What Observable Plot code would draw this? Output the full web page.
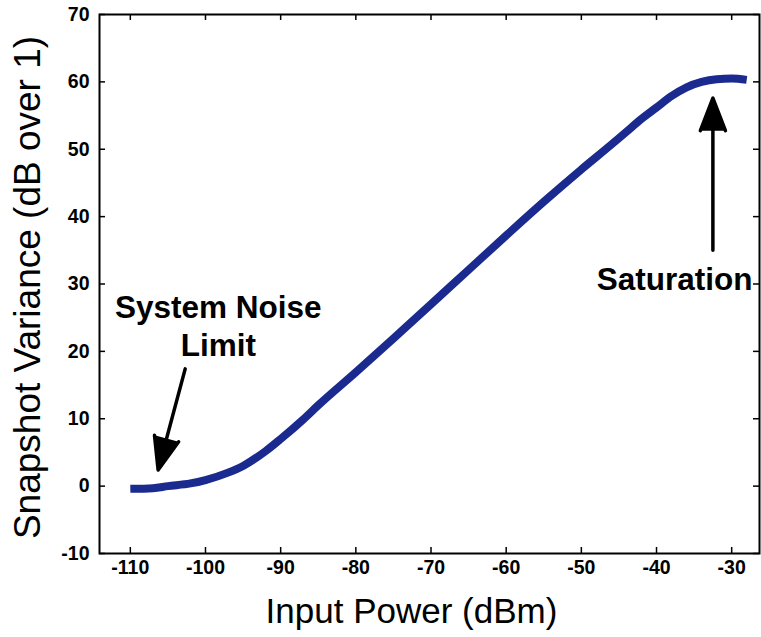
<!DOCTYPE html>
<html>
<head>
<meta charset="utf-8">
<script src="https://cdn.jsdelivr.net/npm/d3@7"></script>
<script src="https://cdn.jsdelivr.net/npm/@observablehq/plot@0.6"></script>
<style>
  html, body { margin: 0; padding: 0; background: #fff; }
  #chart svg { display: block; }
</style>
</head>
<body>
<div id="chart"></div>
<script>
// Measured snapshot variance versus input power
const inputPower = [-110, -107, -105, -102, -100, -97, -95, -92, -90, -87, -85, -80, -75, -70, -65, -60, -55, -50, -46, -44, -42, -40, -38, -36, -34, -32, -30, -28];
const variance   = [-0.4, -0.3, 0.0, 0.4, 0.9, 2.0, 3.0, 5.2, 7.0, 9.9, 12.0, 16.9, 21.9, 27.0, 32.1, 37.2, 42.2, 47.0, 50.7, 52.6, 54.5, 56.2, 57.9, 59.2, 60.0, 60.4, 60.5, 60.3];

// Axis ticks
const xTicks = [-110, -100, -90, -80, -70, -60, -50, -40, -30];
const yTicks = [-10, 0, 10, 20, 30, 40, 50, 60, 70];

// Annotations: labels and arrows (input power, variance)
const noteLabels = ["System Noise\nLimit", "Saturation"];
const noteX = [-98.3, -37.6];
const noteY = [23.9, 30.9];
const arrowX1 = [-102.7, -32.5];
const arrowY1 = [17.4, 35.0];
const arrowX2 = [-106.3, -32.5];
const arrowY2 = [2.4, 57.6];

const curve = inputPower.map((x, i) => ({x, y: variance[i]}));
const notes = noteLabels.map((t, i) => ({t, x: noteX[i], y: noteY[i]}));
const arrows = arrowX1.map((x1, i) => ({x1, y1: arrowY1[i], x2: arrowX2[i], y2: arrowY2[i]}));

const W = 761, H = 637;
const mL = 99, mR = 2, mT = 14, mB = 84;
const fw = W - mL - mR, fh = H - mT - mB;

const chart = Plot.plot({
  width: W,
  height: H,
  marginLeft: mL,
  marginRight: mR,
  marginTop: mT,
  marginBottom: mB,
  style: {fontFamily: "'Liberation Sans', Arial, sans-serif", background: "#fff", color: "#000"},
  x: {domain: [-114.1, -26.3]},
  y: {domain: [-10, 70]},
  marks: [
    // inward ticks on all four sides
    Plot.tickX(xTicks, {x: d => d, insetTop: fh - 6, stroke: "#000", strokeWidth: 1.5}),
    Plot.tickX(xTicks, {x: d => d, insetBottom: fh - 6, stroke: "#000", strokeWidth: 1.5}),
    Plot.tickY(yTicks, {y: d => d, insetRight: fw - 6, stroke: "#000", strokeWidth: 1.5}),
    Plot.tickY(yTicks, {y: d => d, insetLeft: fw - 6, stroke: "#000", strokeWidth: 1.5}),
    Plot.axisX({ticks: xTicks, tickSize: 0, tickPadding: 7, fontSize: 19.5, fontWeight: "bold", label: null, tickFormat: d => String(d)}),
    Plot.axisY({ticks: yTicks, tickSize: 0, tickPadding: 10, fontSize: 19.5, fontWeight: "bold", label: null, tickFormat: d => String(d)}),
    Plot.frame({stroke: "#000", strokeWidth: 2}),
    Plot.line(curve, {x: "x", y: "y", stroke: "#1b2a8f", strokeWidth: 8, curve: "monotone-x", strokeLinecap: "butt"}),
    Plot.arrow(arrows, {x1: "x1", y1: "y1", x2: "x2", y2: "y2", stroke: "#000", strokeWidth: 3.5, headLength: 15, headAngle: 42}),
    Plot.text(notes, {x: "x", y: "y", text: "t", fontSize: 31.5, fontWeight: "bold", lineHeight: 1.2, fill: "#000", lineAnchor: "middle"}),
    Plot.text(["Input Power (dBm)"], {frameAnchor: "bottom", dy: 58, dx: -18, fontSize: 35, fill: "#000", lineAnchor: "middle"}),
    Plot.text(["Snapshot Variance (dB over 1)"], {frameAnchor: "left", textAnchor: "middle", dx: -71, dy: 3.5, rotate: -90, fontSize: 37, fill: "#000", lineAnchor: "middle"})
  ]
});

// fill arrowheads solid
d3.select(chart).selectAll('g[aria-label="arrow"] path').attr("fill", "#000").attr("stroke-linejoin", "miter");

document.getElementById("chart").appendChild(chart);
</script>
</body>
</html>
